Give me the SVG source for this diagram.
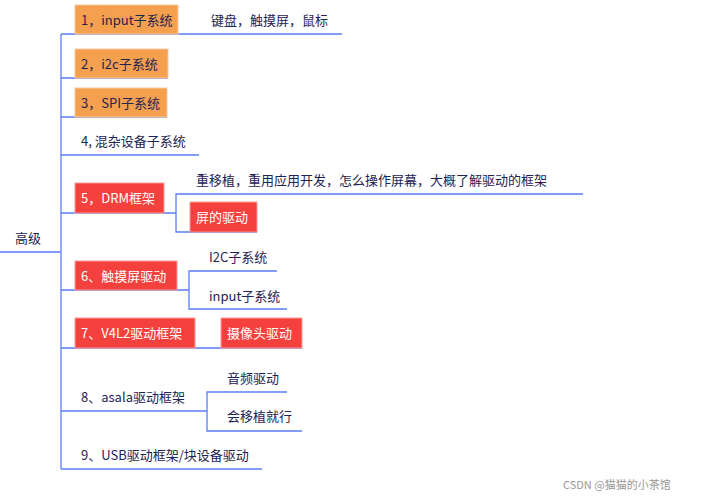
<svg xmlns="http://www.w3.org/2000/svg" width="702" height="498" viewBox="0 0 702 498">
<style>
text{font-family:"Noto Sans CJK SC","Noto Sans",sans-serif;font-size:13px;fill:#1e2352}
.w{fill:#fff}
.o{fill:#f5a04f;stroke:#f8c9a0}
.r{fill:#f5413d;stroke:#f89a98}
.c line,.c path{stroke:#5b7cf7;stroke-width:1.3;fill:none}
.wm{font-size:11px;fill:#999}
</style>
<rect width="702" height="498" fill="#fff"/>
<g class="c">
<line x1="0" y1="252" x2="61" y2="252"/>
<line x1="61" y1="34" x2="61" y2="469"/>
<line x1="61" y1="34" x2="342" y2="34"/>
<line x1="61" y1="78" x2="168" y2="78"/>
<line x1="61" y1="117" x2="167" y2="117"/>
<line x1="61" y1="155" x2="199" y2="155"/>
<line x1="61" y1="213" x2="176" y2="213"/>
<path d="M583 194H176V232H257"/>
<line x1="61" y1="290" x2="189" y2="290"/>
<path d="M277 271H189V309H287"/>
<line x1="61" y1="348" x2="302" y2="348"/>
<line x1="61" y1="411" x2="207" y2="411"/>
<path d="M287 392H207V431H302"/>
<line x1="61" y1="469" x2="262" y2="469"/>
</g>
<g id="root"><text x="15" y="243">高级</text></g>
<g id="n1"><rect class="o" x="75" y="5" width="103" height="29"/><text x="81" y="25">1，input子系统</text></g>
<g id="n1a"><text x="211" y="25">键盘，触摸屏，鼠标</text></g>
<g id="n2"><rect class="o" x="75" y="49" width="93" height="29"/><text x="81" y="69">2，i2c子系统</text></g>
<g id="n3"><rect class="o" x="75" y="88" width="92" height="29"/><text x="81" y="108">3，SPI子系统</text></g>
<g id="n4"><text x="81" y="146">4, 混杂设备子系统</text></g>
<g id="n5"><rect class="r" x="75" y="183" width="89" height="30"/><text class="w" x="81" y="203">5，DRM框架</text></g>
<g id="n5a"><text x="196" y="185">重移植，重用应用开发，怎么操作屏幕，大概了解驱动的框架</text></g>
<g id="n5b"><rect class="r" x="190" y="202" width="67" height="30"/><text class="w" x="196" y="222">屏的驱动</text></g>
<g id="n6"><rect class="r" x="75" y="261" width="102" height="29"/><text class="w" x="81" y="281">6、触摸屏驱动</text></g>
<g id="n6a"><text x="209" y="262">I2C子系统</text></g>
<g id="n6b"><text x="209" y="301">input子系统</text></g>
<g id="n7"><rect class="r" x="75" y="318" width="120" height="30"/><text class="w" x="81" y="338">7、V4L2驱动框架</text></g>
<g id="n7a"><rect class="r" x="221" y="318" width="81" height="30"/><text class="w" x="227" y="338">摄像头驱动</text></g>
<g id="n8"><text x="81" y="402">8、asala驱动框架</text></g>
<g id="n8a"><text x="227" y="383">音频驱动</text></g>
<g id="n8b"><text x="227" y="421">会移植就行</text></g>
<g id="n9"><text x="81" y="460">9、USB驱动框架/块设备驱动</text></g>
<text class="wm" x="563" y="489">CSDN @猫猫的小茶馆</text>
</svg>
